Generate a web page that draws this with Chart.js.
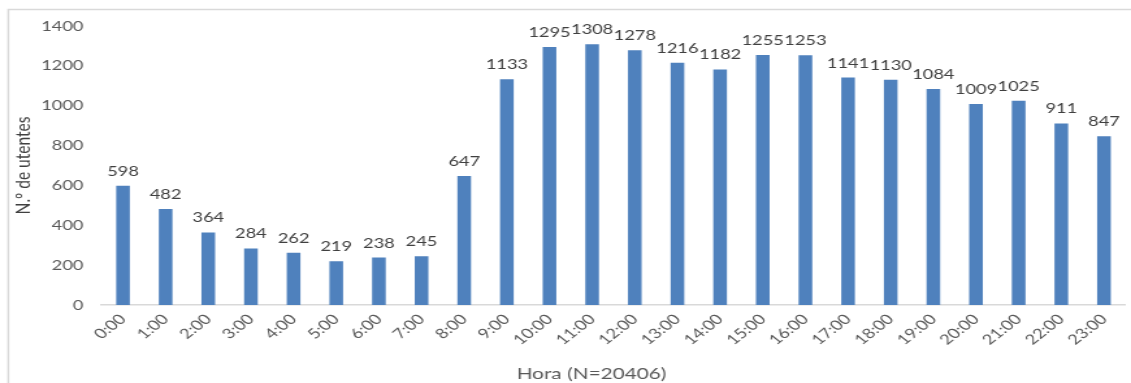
<!DOCTYPE html>
<html>
<head>
<meta charset="utf-8">
<script src="https://cdn.jsdelivr.net/npm/chart.js@4"></script>
<style>
  html, body { margin: 0; padding: 0; background: #fff; }
  #chart { display: block; width: 1131px; height: 383px; }
</style>
</head>
<body>
<canvas id="chart" width="870" height="383" style="width:1131px;height:383px"></canvas>
<script>
// utentes por hora de chegada
const horas = ['0:00', '1:00', '2:00', '3:00', '4:00', '5:00', '6:00', '7:00', '8:00', '9:00', '10:00', '11:00',
  '12:00', '13:00', '14:00', '15:00', '16:00', '17:00', '18:00', '19:00', '20:00', '21:00', '22:00', '23:00'];
const utentes = [598, 482, 364, 284, 262, 219, 238, 245, 647, 1133, 1295, 1308,
  1278, 1216, 1182, 1255, 1253, 1141, 1130, 1084, 1009, 1025, 911, 847];
const yMax = 1400;
const yStep = 200;
const tituloX = 'Hora (N=20406)';
const tituloY = 'N.º de utentes';

const FONT = "Lato, 'Open Sans', sans-serif";

// light frame on the left and top edges, plus the x title (centred on the whole chart)
const frame = {
  id: 'frame',
  beforeDraw(chart) {
    const ctx = chart.ctx;
    ctx.save();
    ctx.strokeStyle = '#d9d9d9';
    ctx.lineWidth = 1.5;
    ctx.beginPath();
    ctx.moveTo(6.4, chart.height);
    ctx.lineTo(6.4, 9.5);
    ctx.lineTo(chart.width, 9.5);
    ctx.stroke();
    ctx.restore();
  },
  afterDraw(chart) {
    const ctx = chart.ctx;
    ctx.save();
    ctx.font = '16px ' + FONT;
    ctx.fillStyle = '#595959';
    ctx.textAlign = 'center';
    ctx.textBaseline = 'middle';
    ctx.fillText(tituloX, 455, 374);
    ctx.restore();
  }
};

// value above each bar
const valueLabels = {
  id: 'valueLabels',
  afterDatasetsDraw(chart) {
    const ctx = chart.ctx;
    const meta = chart.getDatasetMeta(0);
    ctx.save();
    ctx.font = '14px ' + FONT;
    ctx.fillStyle = '#404040';
    ctx.textAlign = 'center';
    ctx.textBaseline = 'alphabetic';
    meta.data.forEach((bar, i) => {
      ctx.fillText(String(chart.data.datasets[0].data[i]), bar.x, bar.y - 10);
    });
    ctx.restore();
  }
};

new Chart(document.getElementById('chart'), {
  type: 'bar',
  data: {
    labels: horas,
    datasets: [{
      data: utentes,
      backgroundColor: '#4f81bd',
      borderWidth: 0,
      barPercentage: 0.32,
      categoryPercentage: 1
    }]
  },
  options: {
    responsive: false,
    devicePixelRatio: 1,
    animation: false,
    layout: { padding: { top: 26, right: 4.4, bottom: 0, left: 0 } },
    plugins: {
      legend: { display: false },
      tooltip: { enabled: false }
    },
    scales: {
      x: {
        grid: { display: false, drawTicks: false },
        border: { display: true, color: '#d9d9d9', width: 1.5 },
        ticks: {
          color: '#595959',
          font: { family: FONT, size: 14 },
          minRotation: 45,
          maxRotation: 45,
          padding: 6,
          autoSkip: false
        },
        afterFit(scale) { scale.height = 78; }
      },
      y: {
        min: 0,
        max: yMax,
        grid: { display: false, drawTicks: false },
        border: { display: false },
        ticks: {
          stepSize: yStep,
          color: '#595959',
          font: { family: FONT, size: 14 },
          padding: 14,
          callback: v => String(v)
        },
        title: {
          display: true,
          text: tituloY,
          color: '#404040',
          font: { family: FONT, size: 15.5 },
          padding: { top: 8.4, bottom: 0 }
        },
        afterFit(scale) { scale.width = 78.2; }
      }
    }
  },
  plugins: [frame, valueLabels]
});
</script>
</body>
</html>
